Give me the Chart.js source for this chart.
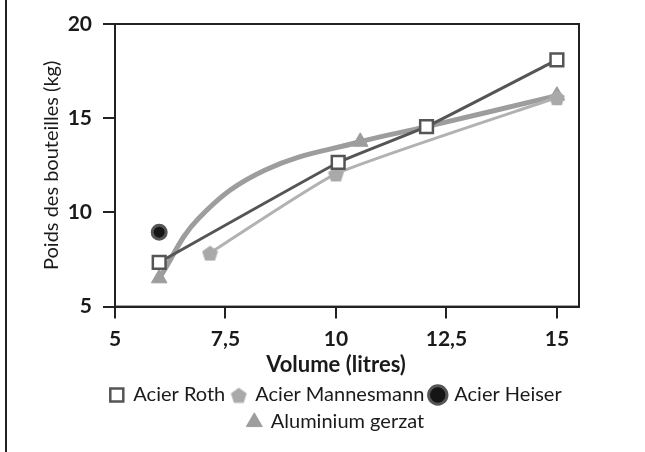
<!DOCTYPE html>
<html>
<head>
<meta charset="utf-8">
<script src="https://cdn.jsdelivr.net/npm/chart.js@4.4.0/dist/chart.umd.min.js"></script>
<style>
  body { margin: 0; background: #fff; }
  #wrap { position: relative; width: 645px; height: 452px; }
  #frame { position: absolute; left: 5px; top: 0; width: 2px; height: 452px; background: #222; }
</style>
</head>
<body>
<div id="wrap">
  <div id="frame"></div>
  <canvas id="weightChart" width="645" height="452"></canvas>
</div>
<script>
// values
var rothX = [6, 10.05, 12.05, 15];
var rothY = [7.35, 12.65, 14.55, 18.1];
var mannX = [7.15, 10, 15];
var mannY = [7.85, 12.05, 16.1];
var heiserX = [6];
var heiserY = [8.95];
// aluminium curve: some points carry no marker in the picture
var aluX = [6, 6.9, 8.4, 10.55, 12.05, 15];
var aluY = [6.5, 9.7, 12.25, 13.75, 14.55, 16.2];
var aluMarked = [true, false, false, true, false, true];

var xTickValues = [5, 7.5, 10, 12.5, 15];
var xTickLabels = ['5', '7,5', '10', '12,5', '15'];
var yTickValues = [5, 10, 15, 20];
var yTickLabels = ['5', '10', '15', '20'];

var seriesNames = ['Acier Roth', 'Acier Mannesmann', 'Acier Heiser', 'Aluminium gerzat'];

function toPoints(xs, ys) {
    return xs.map(function(x, i) { return {x: x, y: ys[i]}; });
}

// pentagon marker (no built-in pentagon in Chart.js)
function makePentagon(size, color) {
    var c = document.createElement('canvas');
    c.width = size; c.height = size;
    var g = c.getContext('2d');
    var r = size / 2;
    g.beginPath();
    for (var i = 0; i < 5; i++) {
        var a = -Math.PI / 2 + i * 2 * Math.PI / 5;
        var px = r + r * 0.98 * Math.cos(a);
        var py = r + 1 + r * 0.98 * Math.sin(a);
        if (i === 0) g.moveTo(px, py); else g.lineTo(px, py);
    }
    g.closePath();
    g.fillStyle = color;
    g.fill();
    return c;
}
var pentagon = makePentagon(17, '#a9a9a9');

// closed frame round the plot
var frameBox = {
    id: 'frameBox',
    afterDatasetsDraw: function(chart) {
        var a = chart.chartArea, ctx = chart.ctx;
        ctx.save();
        ctx.strokeStyle = '#222';
        ctx.lineWidth = 2;
        ctx.strokeRect(a.left, a.top, a.right - a.left, a.bottom - a.top);
        ctx.restore();
    }
};

var font = 'Lato';

var weightChart = new Chart(document.getElementById('weightChart'), {
    type: 'line',
    data: {
        datasets: [{
            label: seriesNames[0],
            data: toPoints(rothX, rothY),
            borderColor: '#555555',
            borderWidth: 3,
            tension: 0.1,
            pointStyle: 'rect',
            pointRadius: 9,
            pointBorderWidth: 2.5,
            pointBorderColor: '#555555',
            pointBackgroundColor: '#ffffff'
        },
        {
            label: seriesNames[1],
            data: toPoints(mannX, mannY),
            borderColor: '#b2b2b2',
            borderWidth: 3,
            tension: 0.15,
            pointStyle: pentagon,
            pointRadius: 9,
            pointBorderColor: '#a9a9a9',
            pointBackgroundColor: '#a9a9a9'
        },
        {
            label: seriesNames[2],
            data: toPoints(heiserX, heiserY),
            showLine: false,
            pointStyle: 'circle',
            pointRadius: 7,
            pointBorderWidth: 3,
            pointBorderColor: '#555555',
            pointBackgroundColor: '#151515'
        },
        {
            label: seriesNames[3],
            data: toPoints(aluX, aluY),
            borderColor: '#9d9d9d',
            borderWidth: 5,
            tension: 0.4,
            pointStyle: 'triangle',
            pointRadius: aluMarked.map(function(m) { return m ? 9 : 0; }),
            pointBorderWidth: 1,
            pointBorderColor: '#9d9d9d',
            pointBackgroundColor: '#9d9d9d'
        }]
    },
    options: {
        responsive: false,
        animation: false,
        layout: {
            padding: {left: 27, right: 0, top: 24, bottom: 10}
        },
        scales: {
            x: {
                type: 'linear',
                min: 5,
                max: 15.5,
                afterBuildTicks: function(axis) {
                    axis.ticks = xTickValues.map(function(v) { return {value: v}; });
                },
                afterFit: function(axis) { axis.height = 45; },
                ticks: {
                    padding: 8,
                    color: '#1a1a1a',
                    font: {family: font, size: 21, weight: 'bold'},
                    callback: function(v) { return xTickLabels[xTickValues.indexOf(v)]; }
                },
                grid: {drawOnChartArea: false, drawTicks: true, tickLength: 12, color: '#222', lineWidth: 2},
                border: {color: '#222', width: 2}
            },
            y: {
                type: 'linear',
                min: 5,
                max: 20,
                afterBuildTicks: function(axis) {
                    axis.ticks = yTickValues.map(function(v) { return {value: v}; });
                },
                afterFit: function(axis) { axis.width = 88; },
                ticks: {
                    padding: 11,
                    color: '#1a1a1a',
                    font: {family: font, size: 21, weight: 'bold'},
                    callback: function(v) { return yTickLabels[yTickValues.indexOf(v)]; }
                },
                title: {
                    display: true,
                    text: 'Poids des bouteilles (kg)',
                    color: '#1a1a1a',
                    font: {family: font, size: 20},
                    padding: {top: 13, bottom: 0}
                },
                grid: {drawOnChartArea: false, drawTicks: true, tickLength: 12, color: '#222', lineWidth: 2},
                border: {color: '#222', width: 2}
            },
            // empty right-hand strip, keeps the plot clear of the right margin
            side: {
                type: 'linear',
                position: 'right',
                afterFit: function(axis) { axis.width = 66; },
                ticks: {display: false},
                grid: {display: false},
                border: {display: false}
            }
        },
        plugins: {
            title: {
                display: true,
                position: 'bottom',
                weight: 500,
                text: 'Volume (litres)',
                color: '#1a1a1a',
                font: {family: font, size: 22, weight: 'bold'},
                padding: {top: 0, bottom: 0}
            },
            legend: {
                position: 'bottom',
                labels: {
                    usePointStyle: true,
                    boxWidth: 13,
                    boxHeight: 13,
                    padding: 7,
                    color: '#1a1a1a',
                    font: {family: font, size: 20}
                }
            },
            tooltip: {enabled: false}
        }
    },
    plugins: [frameBox]
});
</script>
</body>
</html>
